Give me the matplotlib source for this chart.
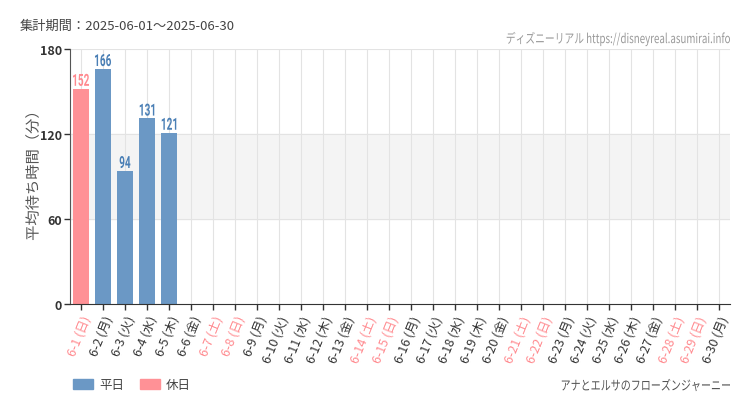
import matplotlib
matplotlib.use("Agg")
import matplotlib.pyplot as plt
from matplotlib.patches import Patch, PathPatch
from matplotlib.textpath import TextPath
from matplotlib.font_manager import FontProperties
from matplotlib.transforms import Affine2D, ScaledTranslation

plt.rcParams['font.family'] = ['Noto Sans CJK JP', 'DejaVu Sans']

# data
dates = [f"6-{d}" for d in range(1, 31)]
weekdays = ["日", "月", "火", "水", "木", "金", "土"] * 5
weekdays = weekdays[:30]
holidays = [d in ("土", "日") for d in weekdays]
values = [152, 166, 94, 131, 121]

BLUE = "#6b98c5"
PINK = "#ff9196"
RED_TXT = "#ff8a8f"
DARK = "#333333"
DPI = 100


def narrow_text(parent, x, y, s, trans, size=10, sx=0.75, sy=1.0, rot=0, color="k",
                ha="left", va="center", weight="normal", family="Noto Sans CJK JP"):
    # condensed text drawn as a path, squeezed horizontally
    fp = FontProperties(family=family, weight=weight)
    tp = TextPath((0, 0), s, prop=fp, size=size)
    bb = tp.get_extents()
    dx = {"left": -bb.x0, "center": -(bb.x0 + bb.width / 2), "right": -bb.x1}[ha]
    dy = {"bottom": 0, "center": -(bb.y0 + bb.height / 2)}[va]
    tr = (Affine2D().translate(dx, dy).scale(sx * DPI / 72, sy * DPI / 72).rotate_deg(rot)
          + ScaledTranslation(x, y, trans))
    p = PathPatch(tp, transform=tr, facecolor=color, edgecolor="none", clip_on=False, zorder=3)
    parent.add_artist(p)


fig = plt.figure(figsize=(7.5, 4.1), dpi=DPI)
ax = fig.add_axes([70 / 750, 105 / 410, 660 / 750, 255 / 410])

x = list(range(30))
ax.set_xlim(-0.5, 29.5)
ax.set_ylim(0, 180)

ax.axhspan(60, 120, color="#f4f4f4", zorder=0)
for xi in x:
    ax.axvline(xi, color="#e3e3e3", lw=0.8, zorder=0.5)
for yv in (60, 120, 180):
    ax.axhline(yv, color="#e3e3e3", lw=0.8, zorder=0.5)

for i, v in enumerate(values):
    col = PINK if holidays[i] else BLUE
    ax.bar(i, v, width=0.74, color=col, zorder=2)
    tcol = RED_TXT if holidays[i] else "#4a7fb5"
    narrow_text(ax, i, v + 2, str(v), ax.transData, size=12, sx=0.6,
                color=tcol, ha="center", va="bottom", weight="bold", family="Roboto")

ax.set_yticks([0, 60, 120, 180])
ax.set_yticklabels(["0", "60", "120", "180"], fontsize=9, color=DARK, fontweight="bold")
ax.set_xticks(x)
labels = [f"{d} ({w})" for d, w in zip(dates, weekdays)]
ax.set_xticklabels(labels, rotation=68, ha="right", va="top",
                   rotation_mode="anchor", fontsize=9)
for lbl, h in zip(ax.get_xticklabels(), holidays):
    lbl.set_color(RED_TXT if h else DARK)

ax.tick_params(axis="x", length=4, width=1, color=DARK, pad=3)
ax.tick_params(axis="y", length=4, width=1, color=DARK, pad=2)
for s in ("top", "right"):
    ax.spines[s].set_visible(False)
ax.spines["left"].set_color("#555555")
ax.spines["bottom"].set_color(DARK)

# y axis title
narrow_text(fig, 32 / 750, 1 - 178 / 410, "平均待ち時間（分）", fig.transFigure,
            size=11, sx=1.0, sy=0.95, rot=90, color="#555555", ha="center")

fig.text(20 / 750, 1 - 26 / 410, "集計期間：2025-06-01～2025-06-30",
         fontsize=9.5, color="#444444", va="center")
narrow_text(fig, 730 / 750, 1 - 40 / 410, "ディズニーリアル https://disneyreal.asumirai.info",
            fig.transFigure, size=9.5, sx=0.74, color="#999999", ha="right")
narrow_text(fig, 730 / 750, 1 - 386 / 410, "アナとエルサのフローズンジャーニー",
            fig.transFigure, size=9.5, sx=0.76, color="#555555", ha="right")

handles = [Patch(color=BLUE, label="平日"), Patch(color=PINK, label="休日")]
fig.legend(handles=handles, loc="center left", bbox_to_anchor=(62 / 750, 1 - 386 / 410),
           ncol=2, frameon=False, fontsize=9, handlelength=1.6, handleheight=0.8,
           columnspacing=1.2, handletextpad=0.5, labelcolor="#444444")

fig.savefig("out.png", dpi=DPI)
